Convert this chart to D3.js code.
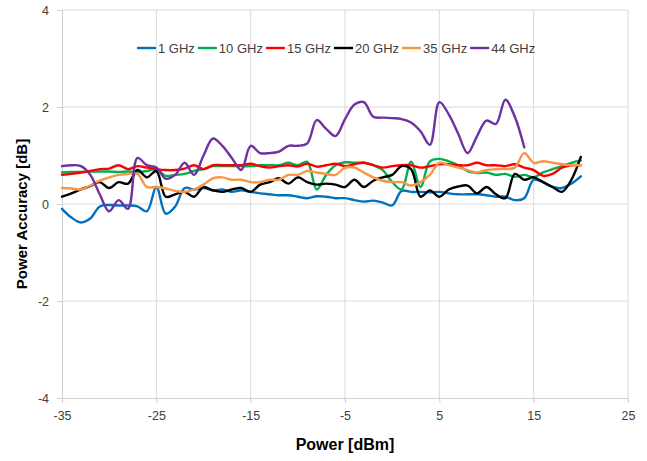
<!DOCTYPE html>
<html>
<head>
<meta charset="utf-8">
<script src="https://cdn.jsdelivr.net/npm/d3@7"></script>
<style>
  html, body { margin: 0; padding: 0; background: #fff; }
  svg { display: block; }
  text { font-family: "Liberation Sans", Arial, sans-serif; }
</style>
</head>
<body>
<svg id="chart" width="647" height="461"></svg>
<script>
const powers = d3.range(-35, 21, 1);
const seriesNames = ["1 GHz", "10 GHz", "15 GHz", "20 GHz", "35 GHz", "44 GHz"];
const seriesColors = ["#0070C0", "#00B050", "#FF0000", "#000000", "#F79646", "#7030A0"];

const ghz1 = [-0.1,-0.28,-0.38,-0.3,-0.05,-0.02,-0.03,-0.03,-0.05,-0.15,
  0.35,-0.2,-0.05,0.33,0.3,0.33,0.28,0.3,0.25,0.28,
  0.25,0.22,0.2,0.18,0.18,0.15,0.12,0.16,0.15,0.12,
  0.12,0.08,0.05,0.07,0.03,-0.03,0.27,0.25,0.25,0.24,
  0.25,0.22,0.2,0.2,0.2,0.18,0.15,0.15,0.08,0.12,
  0.5,0.45,0.35,0.33,0.42,0.57];
const ghz10 = [0.65,0.66,0.66,0.67,0.67,0.67,0.66,0.67,0.66,0.68,
  0.72,0.58,0.6,0.62,0.68,0.72,0.78,0.78,0.78,0.78,
  0.78,0.8,0.8,0.8,0.85,0.8,0.87,0.3,0.6,0.8,
  0.86,0.85,0.85,0.8,0.7,0.45,0.3,0.87,0.35,0.88,
  0.93,0.88,0.8,0.68,0.64,0.65,0.6,0.62,0.56,0.6,
  0.55,0.65,0.72,0.78,0.85,0.9];
const ghz15 = [0.6,0.62,0.65,0.68,0.72,0.73,0.8,0.72,0.78,0.75,
  0.72,0.7,0.7,0.73,0.8,0.72,0.8,0.8,0.8,0.8,
  0.83,0.78,0.75,0.78,0.8,0.77,0.83,0.77,0.8,0.83,
  0.78,0.82,0.85,0.8,0.75,0.78,0.8,0.8,0.75,0.78,
  0.82,0.82,0.8,0.8,0.85,0.8,0.8,0.78,0.82,0.75,
  0.7,0.58,0.62,0.75,0.8,0.8];
const ghz20 = [0.15,0.22,0.3,0.37,0.45,0.33,0.45,0.42,0.7,0.55,
  0.68,0.15,0.2,0.25,0.15,0.35,0.28,0.25,0.3,0.33,
  0.25,0.4,0.45,0.53,0.42,0.55,0.45,0.4,0.42,0.4,
  0.35,0.5,0.35,0.48,0.55,0.6,0.78,0.72,0.15,0.28,
  0.15,0.3,0.36,0.38,0.22,0.35,0.2,0.12,0.62,0.5,
  0.55,0.45,0.35,0.25,0.5,0.97];
const ghz35 = [0.33,0.32,0.3,0.38,0.48,0.55,0.6,0.62,0.62,0.35,
  0.35,0.32,0.27,0.25,0.3,0.4,0.53,0.55,0.5,0.5,
  0.45,0.45,0.5,0.5,0.6,0.6,0.68,0.65,0.62,0.6,
  0.75,0.75,0.65,0.55,0.48,0.45,0.45,0.38,0.45,0.6,
  0.85,0.8,0.75,0.7,0.65,0.7,0.72,0.72,0.75,1.05,
  0.85,0.88,0.85,0.82,0.8,0.8];
const ghz44 = [0.78,0.8,0.78,0.6,0.2,-0.15,0.08,-0.1,0.95,0.8,
  0.75,0.52,0.6,0.85,0.6,1.0,1.35,1.2,0.95,0.7,
  1.2,1.05,1.05,1.08,1.2,1.2,1.25,1.73,1.55,1.4,
  1.75,2.05,2.1,1.8,1.78,1.77,1.75,1.68,1.5,1.22,
  2.1,1.85,1.45,1.05,1.4,1.72,1.65,2.15,1.8,1.17,
  null,null,null,null,null,null];
const seriesValues = [ghz1, ghz10, ghz15, ghz20, ghz35, ghz44];

const xTicks = [-35, -25, -15, -5, 5, 15, 25];
const yTicks = [-4, -2, 0, 2, 4];

const svg = d3.select("#chart");
const pL = 62, pR = 628, pT = 10, pB = 398;

const x = d3.scaleLinear().domain([-35, 25]).range([pL, pR]);
const y = d3.scaleLinear().domain([-4, 4]).range([pB, pT]);

// gridlines
svg.append("g").selectAll("line").data(yTicks.filter(d => d !== -4)).join("line")
  .attr("x1", pL).attr("x2", pR)
  .attr("y1", d => y(d)).attr("y2", d => y(d))
  .attr("stroke", "#d9d9d9").attr("stroke-width", 1);
svg.append("g").selectAll("line").data(xTicks.filter(d => d !== -35)).join("line")
  .attr("x1", d => x(d)).attr("x2", d => x(d))
  .attr("y1", pT).attr("y2", pB)
  .attr("stroke", "#d9d9d9").attr("stroke-width", 1);

// axes
const fmt = d => String(d);
const xAxis = svg.append("g").attr("transform", `translate(0,${pB})`)
  .call(d3.axisBottom(x).tickValues(xTicks).tickFormat(fmt).tickSize(5).tickPadding(8));
const yAxis = svg.append("g").attr("transform", `translate(${pL},0)`)
  .call(d3.axisLeft(y).tickValues(yTicks).tickFormat(fmt).tickSize(5).tickPadding(8));
[xAxis, yAxis].forEach(a => {
  a.selectAll("path, line").attr("stroke", "#d0d0d0");
  a.selectAll("text").attr("fill", "#404040").style("font-size", "12.5px")
    .style("font-family", "'Liberation Sans', Arial, sans-serif");
});

// lines
const line = d3.line()
  .defined(d => d[1] !== null)
  .x(d => x(d[0])).y(d => y(d[1]))
  .curve(d3.curveCatmullRom.alpha(0.5));

seriesValues.forEach((vals, i) => {
  svg.append("path")
    .datum(powers.map((p, j) => [p, vals[j]]))
    .attr("fill", "none")
    .attr("stroke", seriesColors[i])
    .attr("stroke-width", 2.4)
    .attr("stroke-linejoin", "round")
    .attr("stroke-linecap", "round")
    .attr("d", line);
});

// legend
const legend = svg.append("g");
let lx = 137;
const ly = 48;
seriesNames.forEach((name, i) => {
  legend.append("line")
    .attr("x1", lx).attr("x2", lx + 19).attr("y1", ly).attr("y2", ly)
    .attr("stroke", seriesColors[i]).attr("stroke-width", 2.4);
  const t = legend.append("text")
    .attr("x", lx + 21).attr("y", ly + 4.5)
    .attr("fill", "#404040").style("font-size", "13px")
    .text(name);
  lx += 21 + t.node().getComputedTextLength() + 3;
});

// axis titles
svg.append("text")
  .attr("x", (pL + pR) / 2).attr("y", 450)
  .attr("text-anchor", "middle")
  .style("font-size", "16px").style("font-weight", "bold")
  .attr("fill", "#000")
  .text("Power [dBm]");
svg.append("text")
  .attr("transform", `translate(27,${(pT + pB) / 2 + 10}) rotate(-90)`)
  .attr("text-anchor", "middle")
  .style("font-size", "15px").style("font-weight", "bold")
  .attr("fill", "#000")
  .text("Power Accuracy [dB]");
</script>
</body>
</html>
